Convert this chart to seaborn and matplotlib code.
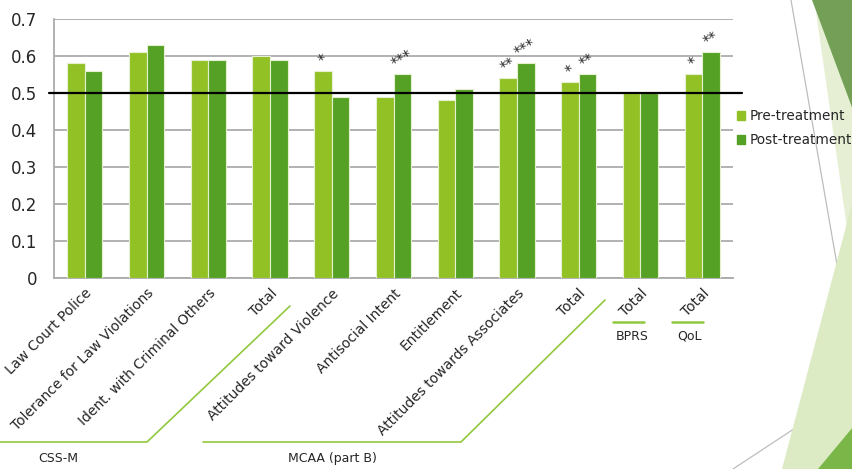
import matplotlib
matplotlib.use("Agg")
import matplotlib.pyplot as plt
from matplotlib.patches import Polygon
from matplotlib.lines import Line2D
import seaborn as sns
import pandas as pd

# ---- data -------------------------------------------------------------
keys = ["Law Court Police", "Tolerance for Law Violations", "Ident. with Criminal Others",
        "CSS-M Total", "Attitudes toward Violence", "Antisocial Intent", "Entitlement",
        "Attitudes towards Associates", "MCAA Total", "BPRS Total", "QoL Total"]
tick_labels = ["Law Court Police", "Tolerance for Law Violations", "Ident. with Criminal Others",
               "Total", "Attitudes toward Violence", "Antisocial Intent", "Entitlement",
               "Attitudes towards Associates", "Total", "Total", "Total"]
pre_values = [0.58, 0.61, 0.59, 0.60, 0.56, 0.49, 0.48, 0.54, 0.53, 0.50, 0.55]
post_values = [0.56, 0.63, 0.59, 0.59, 0.49, 0.55, 0.51, 0.58, 0.55, 0.50, 0.61]
pre_sig = ["", "", "", "", "*", "", "", "**", "*", "", "*"]
post_sig = ["", "", "", "", "", "***", "", "***", "**", "", "**"]
phases = ["Pre-treatment", "Post-treatment"]
colors = ["#92C126", "#55A125"]

df = pd.DataFrame({
    "measure": keys * 2,
    "phase": [phases[0]] * len(keys) + [phases[1]] * len(keys),
    "value": pre_values + post_values,
})

W, H = 853, 469
fig = plt.figure(figsize=(W / 100, H / 100), dpi=100)
sns.set_style("white")
plt.rcParams["font.family"] = ["DejaVu Sans"]


def fx(px):
    return px / W


def fy(py):
    return 1 - py / H


# ---- slide decorations on the right ----------------------------------
deco = [
    ([(816, 12), (853, 95), (853, 270)], "#E6EFD3"),
    ([(853, 200), (782, 469), (853, 469)], "#DDEBC5"),
    ([(812, 0), (853, 0), (853, 110)], "#73A056"),
    ([(853, 427), (818, 469), (853, 469)], "#7AB648"),
]
for pts, c in deco:
    fig.patches.append(Polygon([(fx(x), fy(y)) for x, y in pts], closed=True,
                               transform=fig.transFigure, facecolor=c, edgecolor="none", zorder=0))
for (x0, y0), (x1, y1) in [((791, 0), (853, 357)), ((733, 469), (853, 390))]:
    fig.add_artist(Line2D([fx(x0), fx(x1)], [fy(y0), fy(y1)], color="#BDBDBD", lw=0.9,
                          transform=fig.transFigure, zorder=0))

# ---- chart ------------------------------------------------------------
ax = fig.add_axes([fx(54), fy(278), fx(733) - fx(54), fy(19) - fy(278)])
ax.patch.set_alpha(0)
sns.barplot(data=df, x="measure", y="value", hue="phase", order=keys, hue_order=phases,
            palette=colors, saturation=1, width=0.57, edgecolor="#E4F0D0", linewidth=0.8,
            ax=ax, legend=False, zorder=3)

ax.set_ylim(0, 0.7)
ax.set_xlim(-0.5, len(keys) - 0.5)
ax.set_yticks([i / 10 for i in range(8)])
ax.set_yticklabels(["0"] + [f"0.{i}" for i in range(1, 8)], fontsize=12)
ax.yaxis.grid(True, color="#ABABAB", lw=1.3, zorder=0)
ax.tick_params(axis="y", length=5, color="#ABABAB", width=1.3, pad=7)
ax.set_xlabel("")
ax.set_ylabel("")
for s in ["top", "right"]:
    ax.spines[s].set_visible(False)
for s in ["left", "bottom"]:
    ax.spines[s].set_color("#ABABAB")
    ax.spines[s].set_linewidth(1.3)

ax.set_xticks(range(len(keys)))
ax.set_xticklabels(tick_labels, rotation=45, ha="right", va="top",
                   rotation_mode="anchor", fontsize=10)
ax.tick_params(axis="x", which="major", length=0, pad=6)
ax.set_xticks([i - 0.5 for i in range(len(keys) + 1)], minor=True)
ax.tick_params(axis="x", which="minor", length=5, color="#ABABAB", width=1.3)

# reference line at 0.5
ax.axhline(0.5, xmin=-0.008, xmax=1.013, color="black", lw=1.6, zorder=4, clip_on=False)

# significance marks
off = 0.57 / 4
for i in range(len(keys)):
    for sig, val, dx in [(pre_sig[i], pre_values[i], -off), (post_sig[i], post_values[i], off)]:
        if sig:
            ax.text(i + dx, val + 0.006, sig, ha="center", va="bottom", fontsize=10.5,
                    rotation=30, zorder=5)

# legend
handles = [plt.Rectangle((0, 0), 1, 1, color=c) for c in colors]
fig.legend(handles, phases, loc="upper left", bbox_to_anchor=(fx(733), fy(105)),
           frameon=False, fontsize=9.8, handlelength=0.6, handleheight=0.6,
           handletextpad=0.3, labelspacing=0.75, borderaxespad=0, borderpad=0.3)

# group brackets below the axis
gc = "#92C83E"
fig.add_artist(Line2D([fx(0), fx(147), fx(290)], [fy(442), fy(442), fy(306)],
                      color=gc, lw=1.2, transform=fig.transFigure))
fig.add_artist(Line2D([fx(203), fx(461), fx(605)], [fy(442), fy(442), fy(300)],
                      color=gc, lw=1.2, transform=fig.transFigure))
fig.add_artist(Line2D([fx(613), fx(644)], [fy(322), fy(322)], color=gc, lw=1.8,
                      transform=fig.transFigure))
fig.add_artist(Line2D([fx(672), fx(703)], [fy(322), fy(322)], color=gc, lw=1.8,
                      transform=fig.transFigure))
fig.text(fx(58), fy(458), "CSS-M", ha="center", va="center", fontsize=9)
fig.text(fx(332), fy(458), "MCAA (part B)", ha="center", va="center", fontsize=9)
fig.text(fx(632), fy(336), "BPRS", ha="center", va="center", fontsize=9)
fig.text(fx(690), fy(336), "QoL", ha="center", va="center", fontsize=9)

fig.savefig("out.png", dpi=100)
